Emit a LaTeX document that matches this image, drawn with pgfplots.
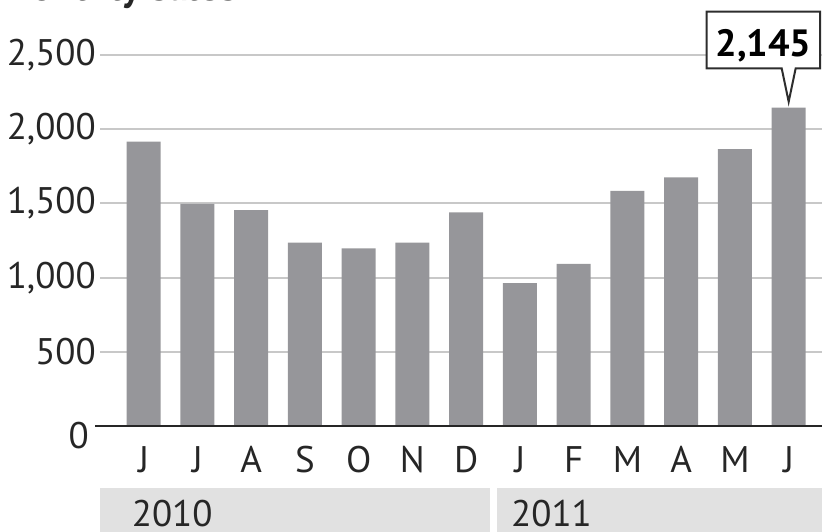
\documentclass[border=0pt]{standalone}
\usepackage{pgfplots}
\pgfplotsset{compat=1.18}
\usepackage{fontspec}
\setmainfont{PT Sans}
\definecolor{bargray}{RGB}{150,150,154}
\definecolor{gridgray}{RGB}{200,200,200}
\definecolor{textgray}{RGB}{38,38,38}
\definecolor{bandgray}{RGB}{225,225,225}
\definecolor{boxgray}{RGB}{45,45,45}
\begin{document}
\begin{tikzpicture}
\begin{axis}[
  scale only axis, width=722pt, height=371pt,
  xmin=-0.813, xmax=12.62, ymin=0, ymax=2500,
  clip=false,
  axis line style={draw=none},
  major tick length=0pt,
  ytick={0,500,1000,1500,2000,2500},
  yticklabels={\raisebox{-23pt}[0pt][0pt]{0\hspace{7pt}},500,{1,000},{1,500},{2,000},{2,500}},
  xtick={0,...,12},
  xticklabels={J,J,A,S,O,N,D,J,F,M,A,M,J},
  ymajorgrids, grid style={gridgray, line width=2pt},
  tick label style={font=\fontsize{37}{40}\selectfont, text=textgray, inner sep=0pt},
  yticklabel style={anchor=east, xshift=-4pt},
  xticklabel style={anchor=north, yshift=-20pt, text height=26pt},
]
\addplot[ybar, bar width=34pt, fill=bargray, draw=none] coordinates {
(0,1916) (1,1496) (2,1455) (3,1235) (4,1197) (5,1235) (6,1440)
(7,962) (8,1092) (9,1584) (10,1676) (11,1865) (12,2145)};
\draw[textgray, line width=2pt] (axis cs:-0.9,0) -- (axis cs:12.62,0);
\fill[bandgray] (axis cs:-0.813,-418) rectangle (axis cs:6.443,-714);
\fill[bandgray] (axis cs:6.567,-418) rectangle (axis cs:12.62,-714);
\node[anchor=base west, inner sep=0pt, text=textgray, font=\fontsize{37}{40}\selectfont] at (axis cs:-0.223,-680) {2010};
\node[anchor=base west, inner sep=0pt, text=textgray, font=\fontsize{37}{40}\selectfont] at (axis cs:6.834,-680) {2011};
\draw[boxgray, line width=2pt, fill=white, line join=miter]
  (axis cs:10.474,2410) -- (axis cs:11.87,2410) -- (axis cs:12,2185) -- (axis cs:12.13,2410)
  -- (axis cs:12.583,2410) -- (axis cs:12.583,2792) -- (axis cs:10.474,2792) -- cycle;
\node[anchor=base, inner sep=0pt, text=black, font=\bfseries\fontsize{38}{40}\selectfont] at (axis cs:11.53,2489) {2,145};
\end{axis}
\node[anchor=base west, inner sep=0pt, text=textgray, font=\bfseries\fontsize{40}{44}\selectfont] at (-101pt,425pt) {Monthly sales};
\pgfresetboundingbox
\useasboundingbox (-100pt,-106pt) rectangle (722pt,426pt);
\end{tikzpicture}
\end{document}
